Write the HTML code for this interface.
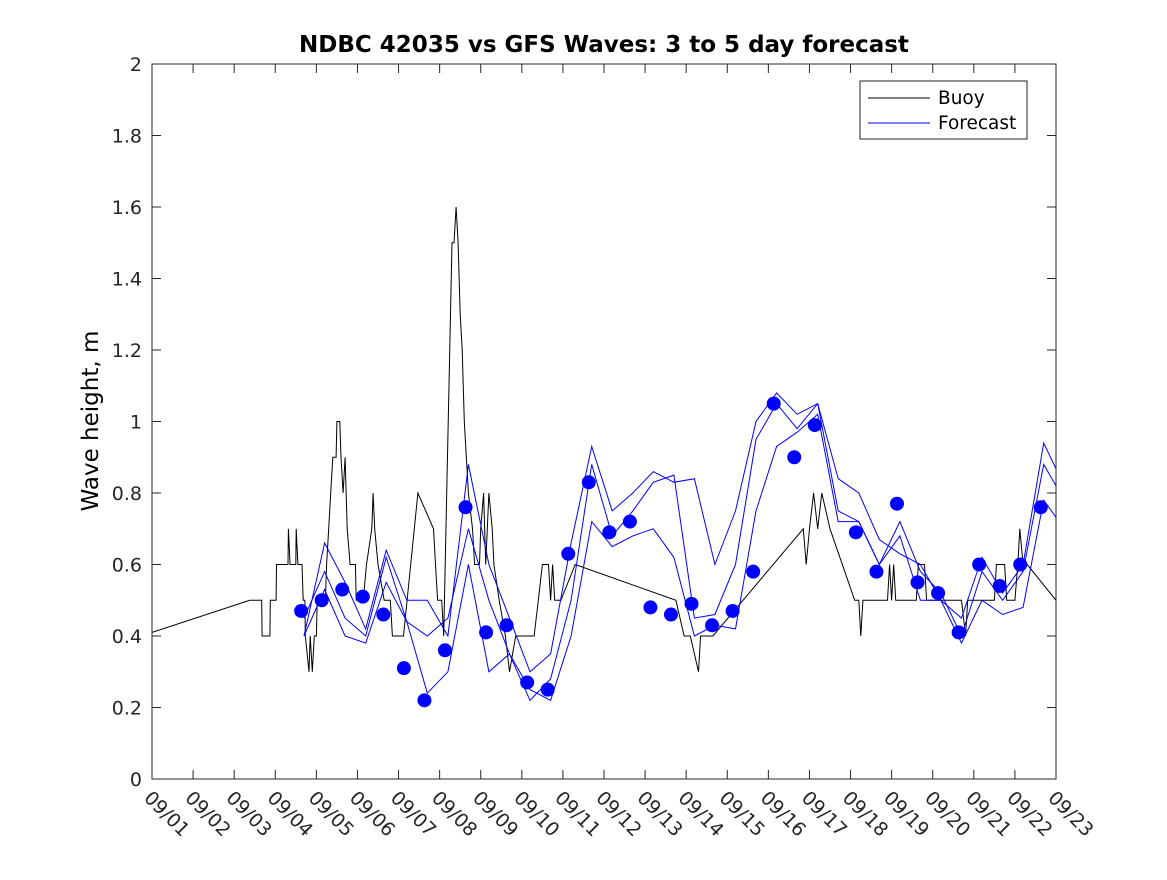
<!DOCTYPE html>
<html><head><meta charset="utf-8"><style>
body{margin:0;background:#fff;}
svg text{font-family:"DejaVu Sans","Liberation Sans",sans-serif;}
</style></head><body>
<svg id="chart" width="1167" height="875" xmlns="http://www.w3.org/2000/svg">
<defs><clipPath id="pc"><rect x="152" y="64" width="904" height="715"/></clipPath></defs>
<rect width="1167" height="875" fill="#fff"/>
<text x="604" y="52" text-anchor="middle" font-size="23" font-weight="bold">NDBC 42035 vs GFS Waves: 3 to 5 day forecast</text>
<text transform="translate(98,421) rotate(-90)" text-anchor="middle" font-size="23">Wave height, m</text>
<g id="plot"></g>
</svg>
<script>
const xDays = ["09/01","09/02","09/03","09/04","09/05","09/06","09/07","09/08","09/09","09/10","09/11","09/12","09/13","09/14","09/15","09/16","09/17","09/18","09/19","09/20","09/21","09/22","09/23"];
const yTicks = [0,0.2,0.4,0.6,0.8,1,1.2,1.4,1.6,1.8,2];
const buoyDay = [0,2.38,2.67,2.68,2.87,2.88,3.02,3.03,3.31,3.32,3.36,3.5,3.51,3.55,3.65,3.68,3.72,3.73,3.82,3.85,3.9,3.95,4.0,4.02,4.22,4.25,4.3,4.35,4.4,4.48,4.5,4.57,4.6,4.65,4.7,4.75,4.82,4.95,4.97,5.14,5.22,5.35,5.38,5.42,5.5,5.65,5.8,5.85,6.12,6.47,6.85,6.9,6.95,7.05,7.1,7.3,7.35,7.4,7.45,7.5,7.55,7.6,7.7,7.8,7.85,7.97,8.0,8.07,8.12,8.2,8.28,8.32,8.45,8.6,8.7,8.85,9.3,9.4,9.5,9.65,9.7,9.75,9.8,9.95,10.3,12.75,12.95,13.1,13.3,13.35,13.65,15.85,15.92,16.0,16.1,16.2,16.3,16.5,17.1,17.2,17.25,17.3,17.9,17.95,18.0,18.05,18.1,18.3,18.6,18.65,18.8,18.85,19.7,19.8,19.85,20.5,20.55,20.75,20.8,21.0,21.07,21.12,21.2,21.3,22.0];
const buoyVal = [0.41,0.5,0.5,0.4,0.4,0.5,0.5,0.6,0.6,0.7,0.6,0.6,0.7,0.6,0.6,0.5,0.5,0.4,0.3,0.4,0.3,0.4,0.4,0.5,0.5,0.6,0.7,0.8,0.9,0.9,1.0,1.0,0.9,0.8,0.9,0.7,0.6,0.6,0.5,0.5,0.6,0.7,0.8,0.7,0.6,0.5,0.5,0.4,0.4,0.8,0.7,0.6,0.5,0.5,0.4,1.5,1.5,1.6,1.5,1.3,1.2,1.0,0.8,0.7,0.6,0.6,0.7,0.8,0.6,0.8,0.7,0.6,0.5,0.4,0.3,0.4,0.4,0.5,0.6,0.6,0.5,0.6,0.5,0.5,0.6,0.5,0.4,0.4,0.3,0.4,0.4,0.7,0.6,0.7,0.8,0.7,0.8,0.7,0.5,0.5,0.4,0.5,0.5,0.6,0.5,0.6,0.5,0.5,0.5,0.6,0.6,0.5,0.5,0.4,0.5,0.5,0.6,0.6,0.5,0.5,0.6,0.7,0.6,0.6,0.5,0.5];
const fcStart = 3.7, fcStep = 0.5;
const fcLeadA = [0.40,0.66,0.55,0.42,0.64,0.50,0.50,0.40,0.88,0.60,0.45,0.30,0.35,0.66,0.93,0.75,0.80,0.86,0.83,0.84,0.60,0.75,1.00,1.08,1.02,1.05,0.84,0.80,0.67,0.63,0.60,0.50,0.45,0.62,0.52,0.60,0.94,0.82,0.80,0.82];
const fcLeadB = [0.45,0.58,0.45,0.40,0.62,0.44,0.40,0.45,0.70,0.50,0.35,0.22,0.28,0.50,0.88,0.68,0.75,0.83,0.85,0.45,0.46,0.60,0.95,1.05,0.98,1.05,0.75,0.72,0.60,0.72,0.58,0.52,0.40,0.58,0.50,0.58,0.88,0.78,0.72,0.72];
const fcLeadC = [0.40,0.53,0.40,0.38,0.55,0.44,0.24,0.30,0.60,0.30,0.35,0.25,0.22,0.40,0.72,0.65,0.68,0.70,0.62,0.40,0.43,0.42,0.75,0.93,0.97,1.02,0.72,0.72,0.60,0.68,0.50,0.50,0.38,0.50,0.46,0.48,0.78,0.70,0.69,0.69];
const dotStart = 3.63, dotStep = 0.5;
const dotVal = [0.47,0.50,0.53,0.51,0.46,0.31,0.22,0.36,0.76,0.41,0.43,0.27,0.25,0.63,0.83,0.69,0.72,0.48,0.46,0.49,0.43,0.47,0.58,1.05,0.90,0.99,null,0.69,0.58,0.77,0.55,0.52,0.41,0.60,0.54,0.60,0.76];

const L=152,R=1056,T=64,B=779;
const xs=d=>L+d*(R-L)/22;
const ys=v=>B-v*(B-T)/2;
const NS="http://www.w3.org/2000/svg";
const g=document.getElementById('plot');
function mk(tag,attrs,parent){const e=document.createElementNS(NS,tag);for(const k in attrs)e.setAttribute(k,attrs[k]);(parent||g).appendChild(e);return e;}

const frame=mk('rect',{x:L,y:T,width:R-L,height:B-T,fill:'none',stroke:'#262626','stroke-width':1});



yTicks.forEach(v=>{
  const y=ys(v);
  mk('line',{x1:L,x2:L+9,y1:y,y2:y,stroke:'#262626'});
  mk('line',{x1:R,x2:R-9,y1:y,y2:y,stroke:'#262626'});
  const t=mk('text',{x:L-10,y:y+7,'text-anchor':'end','font-size':19,fill:'#262626'});
  t.textContent=String(v);
  
  
});
xDays.forEach((s,i)=>{
  const x=xs(i);
  mk('line',{x1:x,x2:x,y1:B,y2:B-9,stroke:'#262626'});
  mk('line',{x1:x,x2:x,y1:T,y2:T+9,stroke:'#262626'});
  const t=mk('text',{x:0,y:0,transform:`translate(${x-9},${B+20}) rotate(45)`,'font-size':19,fill:'#262626'});
  t.textContent=s;
  
  
});

const cg=mk('g',{'clip-path':'url(#pc)'});
const bp=buoyDay.map((d,i)=>xs(d).toFixed(1)+','+ys(buoyVal[i]).toFixed(1)).join(' ');
const buoy=mk('polyline',{points:bp,fill:'none',stroke:'#000','stroke-width':1},cg);



[fcLeadA,fcLeadB,fcLeadC].forEach((arr,k)=>{
  const p=arr.map((v,i)=>xs(fcStart+i*fcStep).toFixed(1)+','+ys(v).toFixed(1)).join(' ');
  const pl=mk('polyline',{points:p,fill:'none',stroke:'#0000ff','stroke-width':1},cg);
  
  
});

dotVal.forEach((v,i)=>{
  if(v==null)return;
  const c=mk('circle',{cx:xs(dotStart+i*dotStep),cy:ys(v),r:7,fill:'#0000ff'},cg);
  
  
});

const lg=mk('rect',{x:860,y:81,width:167,height:58,fill:'#fff',stroke:'#262626'});


mk('line',{x1:868,x2:930,y1:98,y2:98,stroke:'#000'});
mk('line',{x1:868,x2:930,y1:123,y2:123,stroke:'#00f'});
const l1=mk('text',{x:938,y:104,'font-size':18.5,fill:'#000'});l1.textContent='Buoy';


const l2=mk('text',{x:938,y:129,'font-size':18.5,fill:'#000'});l2.textContent='Forecast';


</script>
</body></html>
